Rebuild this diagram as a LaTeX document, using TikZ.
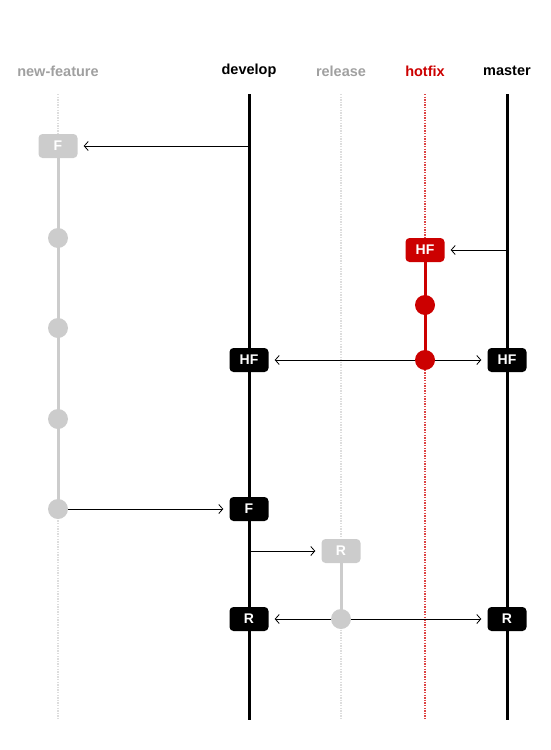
\documentclass[tikz,border=0pt]{standalone}
\usepackage{fontspec}
\setmainfont{Liberation Sans}
\usetikzlibrary{arrows.meta,backgrounds}
\definecolor{lgray}{HTML}{CCCCCC}
\definecolor{tgray}{HTML}{A0A0A0}
\definecolor{hred}{HTML}{CC0000}
\definecolor{dgray}{HTML}{DDDDDD}
\definecolor{dred}{HTML}{DD4444}
\begin{document}
\begin{tikzpicture}[x=1pt,y=-1pt,
  hdr/.style={font=\fontsize{14.5}{16}\selectfont\bfseries, inner sep=0pt},
  cbox/.style={rounded corners=4pt, minimum width=39pt, minimum height=24pt, inner sep=0pt, text=white, font=\fontsize{14}{15}\selectfont\bfseries},
  cdot/.style={circle, minimum size=20pt, inner sep=0pt},
  lanesolid/.style={line width=3pt},
  lanedot/.style={line width=2.6pt, dash pattern=on 1.3pt off 1.3pt},
  arr/.style={line width=0.8pt, -{Straight Barb[length=4pt,width=9pt]}, shorten >=6pt}]
\useasboundingbox (0,0) rectangle (550,750);
% headers
\node[hdr, text=tgray] (hNF) at (58,71) {new-feature};
\node[hdr, text=black] (hD) at (249,71) {develop};
\node[hdr, text=tgray] (hR) at (341,71) {release};
\node[hdr, text=hred] (hH) at (425,71) {hotfix};
\node[hdr, text=black] (hM) at (507,71) {master};
% lane ends
\coordinate (nft) at (58,94);  \coordinate (nfb) at (58,720);
\coordinate (dt) at (249,94);  \coordinate (db) at (249,720);
\coordinate (rt) at (341,94);  \coordinate (rb) at (341,720);
\coordinate (ht) at (425,94);  \coordinate (hb) at (425,720);
\coordinate (mt) at (507,94);  \coordinate (mb) at (507,720);
% branch points on lanes
\coordinate (d1) at (249,146);
\coordinate (m1) at (507,250);
\coordinate (d2) at (249,551);
% commits
\node[cbox, fill=lgray] (F1) at (58,146) {F};
\node[cdot, fill=lgray] (n1) at (58,238) {};
\node[cdot, fill=lgray] (n2) at (58,328) {};
\node[cdot, fill=lgray] (n3) at (58,419) {};
\node[cdot, fill=lgray] (n4) at (58,509) {};
\node[cbox, fill=hred] (HF1) at (425,250) {HF};
\node[cdot, fill=hred] (h1) at (425,305) {};
\node[cdot, fill=hred] (h2) at (425,360) {};
\node[cbox, fill=black] (HFd) at (249,360) {HF};
\node[cbox, fill=black] (HFm) at (507,360) {HF};
\node[cbox, fill=black] (Fd) at (249,509) {F};
\node[cbox, fill=lgray] (R1) at (341,551) {R};
\node[cdot, fill=lgray] (r1) at (341,619) {};
\node[cbox, fill=black] (Rd) at (249,619) {R};
\node[cbox, fill=black] (Rm) at (507,619) {R};
\begin{scope}[on background layer]
  \draw[lanedot, dgray] (nft) -- (nfb);
  \draw[lanedot, dgray] (rt) -- (rb);
  \draw[lanedot, dred] (ht) -- (hb);
  \draw[lanesolid] (dt) -- (db);
  \draw[lanesolid] (mt) -- (mb);
  \draw[lanesolid, lgray] (F1.center) -- (n4.center);
  \draw[lanesolid, hred] (HF1.center) -- (h2.center);
  \draw[lanesolid, lgray] (R1.center) -- (r1.center);
  % merges
  \draw[arr] (d1) -- (F1.east);
  \draw[arr] (m1) -- (HF1.east);
  \draw[arr] (h2.center) -- (HFd.east);
  \draw[arr] (h2.center) -- (HFm.west);
  \draw[arr] (n4.center) -- (Fd.west);
  \draw[arr] (d2) -- (R1.west);
  \draw[arr] (r1.center) -- (Rd.east);
  \draw[arr] (r1.center) -- (Rm.west);
\end{scope}
\end{tikzpicture}
\end{document}
